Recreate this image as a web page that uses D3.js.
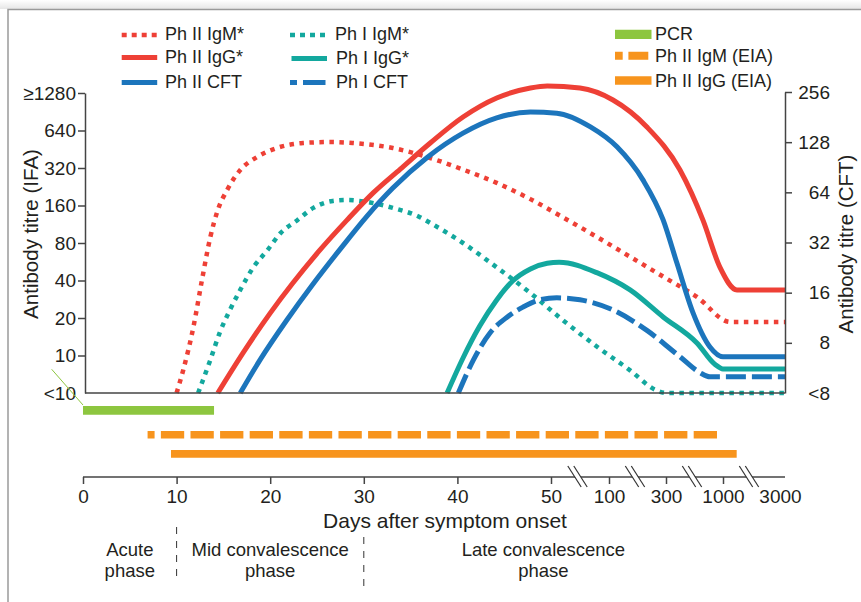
<!DOCTYPE html>
<html>
<head>
<meta charset="utf-8">
<script src="https://cdn.jsdelivr.net/npm/d3@7"></script>
<style>
  body { margin: 0; background: #fff; }
  svg { display: block; font-family: "Liberation Sans", Arial, Helvetica, sans-serif; }
</style>
</head>
<body>
<div id="graphic"></div>
<script>
// [day after onset, titre]
// IFA series use the left axis, CFT series the right axis
const phIIIgM = [[10.0, 5], [10.7, 7.6], [11.8, 17], [12.7, 40], [13.6, 89], [14.4, 147], [15.4, 213],
  [16.8, 308], [18.6, 392], [20.7, 463], [23.5, 508], [26.4, 517], [28.8, 508], [33.1, 463], [37.1, 385],
  [40.6, 311], [44.2, 243], [47.8, 180], [60, 129], [90, 89], [174, 62], [290, 43], [680, 29.5],
  [1250, 18.6], [3175, 18.6]];
const phIIIgG = [[14.4, 5], [17.1, 10.5], [20.0, 21.9], [22.4, 38], [25.3, 70], [28.2, 122], [31.0, 202],
  [33.9, 314], [37.1, 508], [40.6, 821], [44.2, 1167], [47.8, 1404], [49.6, 1457], [75, 1404], [114, 1125],
  [233, 683], [472, 308], [754, 122], [963, 51], [1490, 33.6], [3175, 33.6]];
const phIICFT = [[16.8, 4], [18.9, 6.3], [21.8, 11], [24.6, 18.1], [27.5, 29.3], [30.3, 45.8], [33.1, 67.9],
  [36.8, 104], [40.6, 145], [44.2, 179], [47.8, 194], [55, 191], [84, 158], [128, 120], [219, 76],
  [290, 43.7], [435, 24], [632, 12.1], [840, 7.55], [1000, 6.6], [3175, 6.6]];
const phIIgM = [[12.3, 5], [13.6, 9.2], [14.6, 15.2], [15.7, 23.2], [16.8, 33.6], [18.2, 51], [19.7, 70],
  [21.1, 96], [22.9, 122], [24.6, 153], [26.7, 174], [28.2, 177], [30.3, 171], [33.1, 153], [36.0, 129],
  [37.1, 116], [40.6, 80], [44.2, 51], [47.8, 31.7], [60, 19.3], [90, 11.7], [174, 7.6], [263, 5.3],
  [300, 5], [3175, 5]];
const phIIgG = [[38.9, 5], [40.6, 9.55], [42.4, 17.3], [44.2, 27.9], [45.9, 39.6], [47.8, 49.5], [49.6, 55],
  [57, 56], [90, 46], [174, 33.6], [290, 20.4], [680, 12.6], [900, 8.5], [1000, 7.8], [3175, 7.8]];
const phICFT = [[40.1, 4], [41.7, 6.3], [43.5, 9.2], [45.3, 11.4], [47.0, 13.1], [48.8, 14.5], [55, 14.9],
  [75, 14.5], [114, 12.6], [233, 9.5], [472, 6.6], [717, 5.3], [840, 5.0], [3175, 5.0]];

// Detection windows (days)
const barNames = ["PCR", "Ph II IgM (EIA)", "Ph II IgG (EIA)"];
const barStart = [0, 6.9, 9.4];
const barEnd = [14, 935, 1480];

// Axes
const xBreaks = [0, 50, 100, 300, 1000, 3000];
const xTicks = [0, 10, 20, 30, 40, 50, 100, 300, 1000, 3000];
const ifaTicks = [5, 10, 20, 40, 80, 160, 320, 640, 1280];
const ifaLabels = ["<10", "10", "20", "40", "80", "160", "320", "640", "\u22651280"];
const cftTicks = [4, 8, 16, 32, 64, 128, 256];
const cftLabels = ["<8", "8", "16", "32", "64", "128", "256"];

// Phases
const phaseNames = [["Acute", "phase"], ["Mid convalescence", "phase"], ["Late convalescence", "phase"]];
const phaseBounds = [[0, 10], [10, 30], [30, 1000]];

const red = "#ee4036", blue = "#1c75bc", teal = "#13a89e", green = "#8dc63f", orange = "#f7941d";
const ink = "#231f20";

const W = 861, H = 602;
const plot = { left: 85, right: 785, top: 92, bottom: 393 };

const svg = d3.select("#graphic").append("svg")
  .attr("width", W).attr("height", H);

// frame with a soft shadow on top
const defs = svg.append("defs");
const grad = defs.append("linearGradient").attr("id", "shade").attr("x1", 0).attr("x2", 0).attr("y1", 0).attr("y2", 1);
grad.append("stop").attr("offset", "0%").attr("stop-color", "#fff");
grad.append("stop").attr("offset", "100%").attr("stop-color", "#e6e6e6");
svg.append("rect").attr("x", 0).attr("y", 0).attr("width", W).attr("height", 9).attr("fill", "url(#shade)");
svg.append("path").attr("d", `M8,${H}V9.5H${W}`).attr("fill", "none").attr("stroke", "#9a9a9a").attr("stroke-width", 1.5);

defs.append("clipPath").attr("id", "plotclip").append("rect")
  .attr("x", plot.left).attr("y", 0).attr("width", plot.right - plot.left).attr("height", plot.bottom + 3);

// Scales
const x = d3.scaleLinear().domain(xBreaks).range([83, 551, 609, 666, 723, 780]);
const yIFA = d3.scaleLog().base(2).domain([5, 1280]).range([plot.bottom, 93]);
const yCFT = d3.scaleLog().base(2).domain([4, 256]).range([plot.bottom, plot.top]);

const series = [
  { name: "Ph II IgM*", data: phIIIgM, y: yIFA, color: red, dash: "4.5 5.5", w: 4.5 },
  { name: "Ph I IgM*", data: phIIgM, y: yIFA, color: teal, dash: "4.5 5.5", w: 4.5 },
  { name: "Ph II IgG*", data: phIIIgG, y: yIFA, color: red, dash: null, w: 5 },
  { name: "Ph I IgG*", data: phIIgG, y: yIFA, color: teal, dash: null, w: 5 },
  { name: "Ph I CFT", data: phICFT, y: yCFT, color: blue, dash: "20 6", w: 5 },
  { name: "Ph II CFT", data: phIICFT, y: yCFT, color: blue, dash: null, w: 5 }
];

// Curves
const curves = svg.append("g").attr("clip-path", "url(#plotclip)");
series.forEach(s => {
  const line = d3.line()
    .x(d => x(d[0]))
    .y(d => s.y(d[1]))
    .curve(d3.curveMonotoneX);
  curves.append("path")
    .datum(s.data)
    .attr("d", line)
    .attr("fill", "none")
    .attr("stroke", s.color)
    .attr("stroke-width", s.w)
    .attr("stroke-dasharray", s.dash);
});

// Left axis (IFA)
const gl = svg.append("g")
  .attr("transform", `translate(${plot.left},0)`)
  .call(d3.axisLeft(yIFA).tickValues(ifaTicks).tickFormat((d, i) => ifaLabels[i])
    .tickSize(7).tickSizeOuter(0).tickPadding(2));
// Right axis (CFT)
const gr = svg.append("g")
  .attr("transform", `translate(${plot.right},0)`)
  .call(d3.axisRight(yCFT).tickValues(cftTicks).tickFormat((d, i) => cftLabels[i])
    .tickSize(7).tickSizeOuter(0));
gr.selectAll(".tick text").attr("text-anchor", "end").attr("x", 45);

[gl, gr].forEach(g => {
  g.select(".domain").attr("stroke", "#444").attr("stroke-width", 1.5);
  g.selectAll(".tick line").attr("stroke", "#444").attr("stroke-width", 1.5);
  g.selectAll(".tick text").attr("fill", ink).style("font-size", "19px");
  g.attr("font-family", null);
});
// the "<" ticks sit on the baseline, no tick mark there
gl.selectAll(".tick").filter(d => d === 5).select("line").remove();
gr.selectAll(".tick").filter(d => d === 4).select("line").remove();

// plot baseline
svg.append("line")
  .attr("x1", plot.left).attr("x2", plot.right)
  .attr("y1", plot.bottom).attr("y2", plot.bottom)
  .attr("stroke", "#444").attr("stroke-width", 1.5);

// Axis titles
svg.append("text")
  .attr("transform", "translate(37.5,234) rotate(-90)")
  .attr("text-anchor", "middle").attr("fill", ink).style("font-size", "20.5px")
  .text("Antibody titre (IFA)");
svg.append("text")
  .attr("transform", "translate(852.5,244) rotate(-90)")
  .attr("text-anchor", "middle").attr("fill", ink).style("font-size", "20.5px")
  .text("Antibody titre (CFT)");

// Bars: PCR and EIA windows
const barY = [410.3, 434.7, 453.8];
const barH = [8.7, 7.5, 7.8];
const barColor = [green, orange, orange];
barNames.forEach((n, i) => {
  const l = svg.append("line")
    .attr("x1", x(barStart[i])).attr("x2", x(barEnd[i]))
    .attr("y1", barY[i]).attr("y2", barY[i])
    .attr("stroke", barColor[i]).attr("stroke-width", barH[i]);
  if (i === 1) l.attr("stroke-dasharray", "23.3 6.3").attr("stroke-dashoffset", 16.3);
});
// leader from the "<10" tick to the PCR bar
svg.append("line")
  .attr("x1", 51.7).attr("y1", 369.3).attr("x2", x(barStart[0])).attr("y2", 405)
  .attr("stroke", green).attr("stroke-width", 1);

// X axis
const xAxisY = 477;
const gx = svg.append("g")
  .attr("transform", `translate(0,${xAxisY})`)
  .call(d3.axisBottom(x).tickValues(xTicks).tickFormat(d3.format("d")).tickSize(7).tickPadding(6));
gx.select(".domain").remove();
gx.append("line").attr("x1", x(0)).attr("x2", plot.right)
  .attr("stroke", "#444").attr("stroke-width", 1.5);
gx.selectAll(".tick line").attr("stroke", "#444").attr("stroke-width", 1.5);
gx.selectAll(".tick").filter(d => d === 3000).select("line").remove();
gx.selectAll(".tick text").attr("fill", ink).style("font-size", "19px");
gx.attr("font-family", null);

// scale breaks
d3.pairs(xBreaks.slice(1)).forEach(([a, b]) => {
  const cx = (x(a) + x(b)) / 2 - 2.5;
  gx.append("line")
    .attr("x1", cx - 6.7).attr("y1", -11).attr("x2", cx + 6.7).attr("y2", 10)
    .attr("stroke", "#fff").attr("stroke-width", 5);
  [-3, 3].forEach(o => {
    gx.append("line")
      .attr("x1", cx + o - 6.7).attr("y1", -11).attr("x2", cx + o + 6.7).attr("y2", 10)
      .attr("stroke", "#333").attr("stroke-width", 1.2);
  });
});

svg.append("text")
  .attr("x", 445).attr("y", 528).attr("text-anchor", "middle")
  .attr("fill", ink).style("font-size", "21px")
  .text("Days after symptom onset");

// Phases: each label is one text with two lines
phaseNames.forEach((lines, i) => {
  const cx = (x(phaseBounds[i][0]) + x(phaseBounds[i][1])) / 2;
  const t = svg.append("text")
    .attr("x", cx).attr("y", 556).attr("text-anchor", "middle")
    .attr("fill", ink).style("font-size", "18.5px");
  lines.forEach((s, j) => {
    t.append("tspan").attr("x", cx).attr("dy", j === 0 ? 0 : 21).text(s);
  });
});
[[10, 527, 582], [30, 537, 592]].forEach(([d, y1, y2]) => {
  svg.append("line")
    .attr("x1", x(d)).attr("x2", x(d)).attr("y1", y1).attr("y2", y2)
    .attr("stroke", "#333").attr("stroke-width", 1).attr("stroke-dasharray", "7 7");
});

// Legend
const legendItems = [
  { s: series[0], sx: 121.7, sy: 35, tx: 165, ty: 40 },
  { s: series[2], sx: 121.7, sy: 57.5, tx: 165, ty: 63 },
  { s: series[5], sx: 121.7, sy: 82.5, tx: 165, ty: 87.5 },
  { s: series[1], sx: 290, sy: 35, tx: 335, ty: 40 },
  { s: series[3], sx: 291.5, sy: 58.5, tx: 336, ty: 63.5 },
  { s: series[4], sx: 290, sy: 82.5, tx: 336, ty: 87.5 }
];
const leg = svg.append("g");
legendItems.forEach(it => {
  const l = leg.append("line")
    .attr("x1", it.sx).attr("x2", it.sx + 35.5).attr("y1", it.sy).attr("y2", it.sy)
    .attr("stroke", it.s.color).attr("stroke-width", it.s.w);
  if (it.s.dash === "20 6") l.attr("stroke-dasharray", "7 6 24");
  else if (it.s.dash) l.attr("stroke-dasharray", "5 5");
  leg.append("text").attr("x", it.tx).attr("y", it.ty).attr("fill", ink)
    .style("font-size", "18px").text(it.s.name);
});
const barLegY = [34.4, 55.8, 80.5];
const barLegT = [39.5, 62, 86.5];
barNames.forEach((n, i) => {
  const l = leg.append("line")
    .attr("x1", 615).attr("x2", i === 1 ? 648.3 : 651.5).attr("y1", barLegY[i]).attr("y2", barLegY[i])
    .attr("stroke", barColor[i]).attr("stroke-width", barH[i] + 0.5);
  if (i === 1) l.attr("stroke-dasharray", "7.7 5.7 20");
  leg.append("text").attr("x", 655).attr("y", barLegT[i]).attr("fill", ink)
    .style("font-size", "18px").text(n);
});
</script>
</body>
</html>
